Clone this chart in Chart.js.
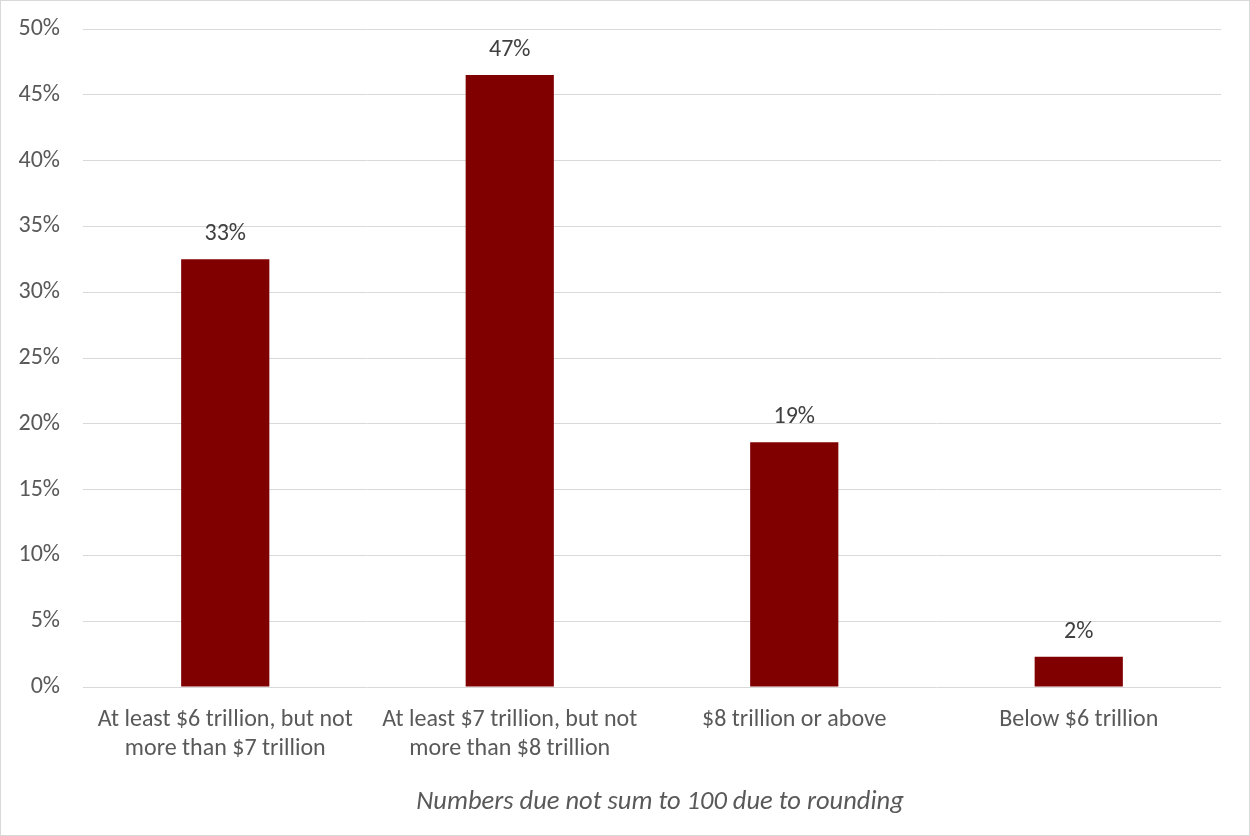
<!DOCTYPE html>
<html>
<head>
<meta charset="utf-8">
<script src="https://cdn.jsdelivr.net/npm/chart.js@4/dist/chart.umd.min.js"></script>
<style>
    html, body { margin: 0; padding: 0; background: #fff; }
    #wrap {
        position: absolute; left: 0; top: 0;
        width: 1250px; height: 836px;
        box-sizing: border-box;
        border: 1px solid #d9d9d9;
        background: #fff;
    }
    #chart { display: block; }
</style>
</head>
<body>
<div id="wrap"><canvas id="chart" width="1248" height="834"></canvas></div>
<script>
// --- DATA ---
const categories = [
    ['At least $6 trillion, but not', 'more than $7 trillion'],
    ['At least $7 trillion, but not', 'more than $8 trillion'],
    '$8 trillion or above',
    'Below $6 trillion'
];
const shares = [32.5, 46.5, 18.6, 2.3];
const shareLabels = ['33%', '47%', '19%', '2%'];
const footnote = 'Numbers due not sum to 100 due to rounding';

const FONT = 'Carlito, Calibri, Lato, sans-serif';

// value labels above each bar + the footnote under the axis
const barLabels = {
    id: 'barLabels',
    afterDraw(chart) {
        const ctx = chart.ctx;
        const meta = chart.getDatasetMeta(0);
        const area = chart.chartArea;
        ctx.save();
        ctx.font = '24px ' + FONT;
        ctx.fillStyle = '#404040';
        ctx.textAlign = 'center';
        ctx.textBaseline = 'middle';
        meta.data.forEach((bar, i) => {
            ctx.fillText(shareLabels[i], bar.x, bar.y - 25);
        });

        ctx.font = 'italic 26.5px ' + FONT;
        ctx.fillStyle = '#595959';
        ctx.fillText(footnote, (area.left + area.right) / 2 + 8, area.bottom + 115);
        ctx.restore();
    }
};

// stop the scales from pushing the plot area in
function noScalePadding(scale) {
    scale.paddingTop = 0;
    scale.paddingBottom = 0;
    scale.paddingLeft = 0;
    scale.paddingRight = 0;
}

new Chart(document.getElementById('chart'), {
    type: 'bar',
    data: {
        labels: categories,
        datasets: [{
            data: shares,
            backgroundColor: '#800000',
            borderWidth: 0,
            categoryPercentage: 1,
            barPercentage: 0.31
        }]
    },
    options: {
        responsive: false,
        animation: false,
        layout: { padding: { top: 28, right: 28, left: 0, bottom: 72 } },
        plugins: {
            legend: { display: false },
            tooltip: { enabled: false }
        },
        scales: {
            x: {
                grid: { display: false },
                border: { display: false },
                ticks: {
                    color: '#595959',
                    font: { family: FONT, size: 24, lineHeight: '29px' },
                    padding: 10,
                    maxRotation: 0,
                    autoSkip: false
                },
                afterFit(scale) { noScalePadding(scale); scale.height = 76; }
            },
            y: {
                min: 0,
                max: 50,
                grid: { color: '#d9d9d9', lineWidth: 1, drawTicks: false },
                border: { display: false },
                ticks: {
                    stepSize: 5,
                    color: '#595959',
                    font: { family: FONT, size: 24 },
                    padding: 23,
                    callback: v => v + '%'
                },
                afterFit(scale) { noScalePadding(scale); scale.width = 82; }
            }
        }
    },
    plugins: [barLabels]
});
</script>
</body>
</html>
